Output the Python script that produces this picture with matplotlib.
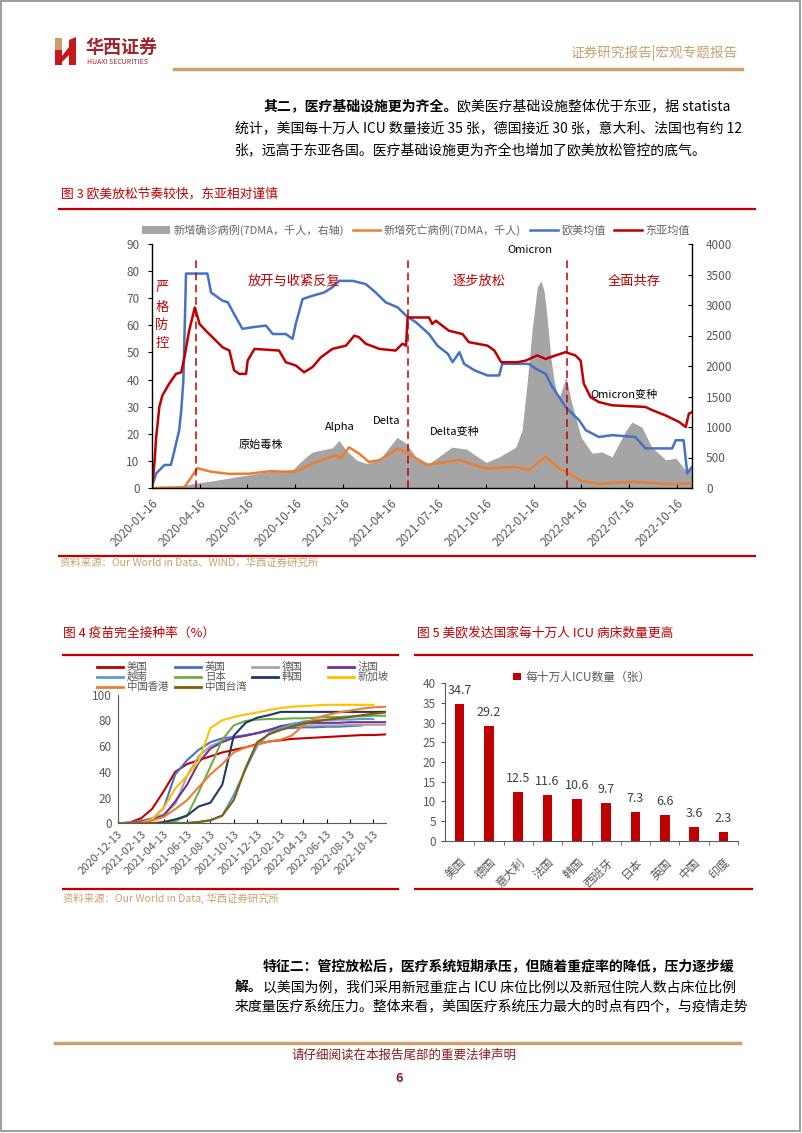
import numpy as np
import pandas as pd
import matplotlib
matplotlib.use('Agg')
import matplotlib.pyplot as plt
from matplotlib.patches import Rectangle, Polygon

plt.rcParams['font.family'] = ['Noto Sans CJK SC', 'DejaVu Sans']
plt.rcParams['axes.unicode_minus'] = False

RED = '#C00000'
GOLD = '#C8A16E'
TXT = '#404040'

# ---------------- 图3 数据 ----------------
case_dates = ['2020-01-16', '2020-03-01', '2020-03-08', '2020-04-10', '2020-05-20', '2020-07-01',
              '2020-08-20', '2020-10-12', '2020-10-24', '2020-11-06', '2020-11-18', '2020-12-05',
              '2020-12-26', '2021-01-08', '2021-01-21', '2021-02-10', '2021-03-01', '2021-03-26',
              '2021-04-14', '2021-04-29', '2021-05-16', '2021-06-04', '2021-06-29', '2021-08-12',
              '2021-09-08', '2021-10-16', '2021-11-10', '2021-12-12', '2021-12-24', '2022-01-03',
              '2022-01-12', '2022-01-22', '2022-01-29', '2022-02-04', '2022-02-09', '2022-02-17',
              '2022-02-23', '2022-03-04', '2022-03-18', '2022-03-29', '2022-04-16', '2022-05-07',
              '2022-05-26', '2022-06-14', '2022-07-11', '2022-07-22', '2022-08-10', '2022-08-29',
              '2022-09-25', '2022-10-14', '2022-11-02', '2022-11-14']
case_vals = [0, 5, 30, 80, 130, 190, 260, 305, 410, 510, 590, 620,
             660, 780, 620, 460, 400, 460,
             670, 830, 730, 510, 400, 670,
             640, 420, 510, 670, 950, 1760,
             2580, 3290, 3400, 3230, 2860, 2140,
             1760, 1450, 1820, 1390, 830, 570,
             590, 510, 950, 1080, 1000, 670,
             460, 490, 290, 350]

death_dates = ['2020-01-16', '2020-03-18', '2020-04-12', '2020-05-08', '2020-06-12', '2020-07-20',
               '2020-08-29', '2020-10-12', '2020-10-24', '2020-11-18', '2020-12-14', '2021-01-02',
               '2021-01-11', '2021-01-27', '2021-02-15', '2021-03-06', '2021-03-26', '2021-04-20',
               '2021-04-30', '2021-05-16', '2021-06-10', '2021-06-23', '2021-07-18', '2021-08-26',
               '2021-10-16', '2021-12-12', '2022-01-06', '2022-02-07', '2022-03-05', '2022-03-24',
               '2022-04-15', '2022-05-20', '2022-07-23', '2022-09-25', '2022-11-14']
death_vals = [0, 0.3, 7.3, 6.0, 5.2, 5.3,
              6.2, 5.9, 6.6, 9.1, 10.9, 12.1,
              11.0, 15.0, 12.7, 9.6, 10.3, 13.3,
              14.6, 13.0, 10.3, 8.5, 9.2, 10.3,
              7.2, 7.8, 6.6, 11.5, 7.2, 5.4,
              2.7, 1.5, 2.3, 1.5, 1.7]

eu_dates = ['2020-01-16', '2020-01-24', '2020-02-09', '2020-02-21', '2020-02-25', '2020-03-08',
            '2020-03-12', '2020-03-16', '2020-03-20', '2020-03-21', '2020-05-01', '2020-05-08',
            '2020-05-30', '2020-06-09', '2020-06-21', '2020-07-07', '2020-07-26', '2020-08-21',
            '2020-09-03', '2020-09-28', '2020-10-11', '2020-10-17', '2020-10-30', '2020-11-18',
            '2020-12-10', '2020-12-26', '2021-01-08', '2021-02-03', '2021-02-28', '2021-03-19',
            '2021-04-07', '2021-04-30', '2021-05-16', '2021-06-04', '2021-06-29', '2021-07-15',
            '2021-08-04', '2021-08-13', '2021-08-26', '2021-09-04', '2021-09-24', '2021-10-19',
            '2021-11-10', '2021-11-16', '2022-01-06', '2022-01-19', '2022-02-07', '2022-02-20',
            '2022-03-05', '2022-03-17', '2022-03-30', '2022-04-12', '2022-04-25', '2022-05-20',
            '2022-06-14', '2022-07-29', '2022-08-17', '2022-10-07', '2022-10-14', '2022-10-29',
            '2022-11-05', '2022-11-14']
eu_vals = [0.5, 5.4, 8.5, 8.5, 11.5, 21.3,
           28.7, 39.7, 70.3, 79.1, 79.1, 72.1,
           69.1, 68.5, 64.2, 58.7, 59.3, 59.9,
           56.8, 56.8, 55.0, 60.5, 69.7, 70.9,
           72.1, 74.0, 76.4, 76.4, 75.2, 72.1,
           68.5, 66.6, 63.6, 61.1, 56.8, 52.5,
           49.5, 46.4, 50.1, 45.8, 43.4, 41.5,
           41.5, 45.8, 45.8, 44.0, 42.1, 37.2,
           33.5, 29.9, 27.4, 25.0, 21.3, 18.8,
           19.5, 18.8, 14.6, 14.6, 17.6, 17.6,
           5.4, 7.8]

ea_dates = ['2020-01-16', '2020-01-21', '2020-01-24', '2020-01-30', '2020-02-05', '2020-02-18',
            '2020-03-02', '2020-03-12', '2020-03-18', '2020-03-27', '2020-04-07', '2020-04-16',
            '2020-04-28', '2020-05-17', '2020-05-30', '2020-06-12', '2020-06-21', '2020-07-01',
            '2020-07-14', '2020-07-17', '2020-07-30', '2020-09-15', '2020-09-28', '2020-10-17',
            '2020-11-02', '2020-11-18', '2020-12-04', '2020-12-26', '2021-01-21', '2021-02-06',
            '2021-02-15', '2021-02-28', '2021-03-26', '2021-04-26', '2021-05-09', '2021-05-16',
            '2021-05-19', '2021-06-29', '2021-07-05', '2021-07-12', '2021-08-06', '2021-09-01',
            '2021-09-13', '2021-10-19', '2021-11-01', '2021-11-14', '2021-12-15', '2021-12-31',
            '2022-01-22', '2022-02-07', '2022-02-26', '2022-03-17', '2022-04-05', '2022-04-15',
            '2022-04-21', '2022-05-04', '2022-05-20', '2022-06-14', '2022-08-17', '2022-08-30',
            '2022-09-24', '2022-10-20', '2022-11-02', '2022-11-08', '2022-11-14']
ea_vals = [0, 10, 18.8, 29.9, 34.2, 38.5,
           42.1, 42.7, 48.2, 58.0, 66.6, 60.5,
           58.0, 54.4, 51.9, 50.7, 43.4, 42.1,
           42.1, 47.0, 51.3, 50.7, 46.4, 45.2,
           42.7, 44.6, 48.2, 51.3, 52.5, 56.2,
           55.6, 53.2, 51.3, 50.7, 53.2, 52.5,
           62.9, 62.9, 60.5, 61.7, 58.0, 56.8,
           53.8, 52.5, 50.7, 46.4, 46.4, 47.0,
           48.9, 47.6, 48.9, 50.1, 48.9, 47.0,
           38.5, 33.5, 31.7, 30.5, 29.9, 28.7,
           26.8, 24.4, 22.5, 27.4, 28.0]

stage_dates = ['2020-04-10', '2021-05-20', '2022-03-20']
ticks3 = ['2020-01-16', '2020-04-16', '2020-07-16', '2020-10-16', '2021-01-16', '2021-04-16',
          '2021-07-16', '2021-10-16', '2022-01-16', '2022-04-16', '2022-07-16', '2022-10-16']

# ---------------- 图4 数据 ----------------
vac_months = ['2020-12', '2021-01', '2021-02', '2021-03', '2021-04', '2021-05', '2021-06', '2021-07',
              '2021-08', '2021-09', '2021-10', '2021-11', '2021-12', '2022-01', '2022-02', '2022-03',
              '2022-04', '2022-05', '2022-06', '2022-07', '2022-08', '2022-09', '2022-10', '2022-11']
nan = np.nan
us = [0, 0.5, 4, 11, 25, 40, 46, 49, 52, 55, 57, 59, 61.5, 63.5, 64.5, 65.5, 66, 66.5, 67, 67.5, 68, 68.5, 68.5, 69]
uk = [0, 0.5, 1, 3, 12, 38, 49, 57, 63, 66, 67, 68.5, 70, 72, 73.5, 74, 74.5, 74.5, 75, 75, 75.5, 76, nan, nan]
de = [0, 0.5, 2, 4, 7, 15, 37, 52, 60, 64, 66.5, 68, 70, 72.5, 74.5, 75.5, 76, 76, 76, 76, 76.5, 76.5, 76.5, 76.5]
fr = [0, 0.3, 1.5, 3, 6, 17, 30, 47, 58, 63, 66.5, 68, 70, 72.5, 75.5, 77, 78, 78, 78, 78, 78.5, 78.5, 78.5, 78.5]
vn = [nan, nan, nan, 0, 0, 0.2, 0.5, 1, 2, 6, 22, 42, 60, 70, 74, 77, 79, 80, 80, 80.5, 80.5, 81, 81, nan]
jp = [0, 0, 0, 0, 0.3, 1.5, 6, 24, 44, 65, 76, 79.5, 80.5, 81, 81, 81.5, 81.5, 82, 82.5, 82.5, 83, 83, 83.5, 83.5]
kr = [0, 0, 0, 0, 1, 3, 6, 13, 16, 30, 68, 78, 82, 84, 86.5, 86.5, 86.5, 86.5, 86.5, 86.5, 86.5, 86.5, 86.5, 86.5]
sg = [0, 0, 0.5, 3, 12, 27, 37, 48, 74, 80, 82.5, 84.5, 86, 88, 89.5, 90.5, 91, 91.5, 92, 92, 92, 92, 92, nan]
hk = [0, 0, 0, 2, 5, 11, 18, 28, 38, 46, 55, 59, 61, 63.5, 65, 68, 76, 81.5, 84, 86, 87.5, 89, 90, 90.5]
tw = [0, 0, 0, 0, 0, 0, 0, 1, 2.5, 6, 18, 43, 63, 69, 72.5, 75, 77.5, 79, 80.5, 81.5, 82.5, 84, 85, 86]
vac_names = ['美国', '英国', '德国', '法国', '越南', '日本', '韩国', '新加坡', '中国香港', '中国台湾']
vac_colors = ['#C00000', '#4472C4', '#A5A5A5', '#7030A0', '#5B9BD5', '#70AD47', '#203864', '#FFC000',
              '#ED7D31', '#806000']
ticks4 = ['2020-12-13', '2021-02-13', '2021-04-13', '2021-06-13', '2021-08-13', '2021-10-13',
          '2021-12-13', '2022-02-13', '2022-04-13', '2022-06-13', '2022-08-13', '2022-10-13']

# ---------------- 图5 数据 ----------------
icu_countries = ['美国', '德国', '意大利', '法国', '韩国', '西班牙', '日本', '英国', '中国', '印度']
icu_beds = [34.7, 29.2, 12.5, 11.6, 10.6, 9.7, 7.3, 6.6, 3.6, 2.3]


fig = plt.figure(figsize=(8.02, 11.33), dpi=100)
bg = fig.add_axes([0, 0, 1, 1])
bg.set_xlim(0, 802)
bg.set_ylim(1133, 0)
bg.axis('off')


def put_line(x, y, parts, size=10):
    t = bg.text(x, y, parts[0][0], fontsize=size, fontweight=parts[0][1], va='bottom')
    for txt, w in parts[1:]:
        t = bg.annotate(txt, xy=(1, 0), xycoords=t, fontsize=size, fontweight=w, va='bottom', ha='left')
    return t


# page frame + header
bg.add_patch(Rectangle((1, 1), 799, 1130, fill=False, ec='#8c8c8c', lw=1.2))
bg.add_patch(Rectangle((55, 38), 7, 12, color='#C9A063', lw=0))
bg.add_patch(Rectangle((55, 50), 7, 15, color='#C8161D', lw=0))
bg.add_patch(Polygon([(62, 56), (69, 47), (69, 40), (76, 37), (76, 65), (69, 65), (69, 55), (62, 62)],
                     color='#C8161D', lw=0))
bg.text(86, 47, '华西证券', fontsize=13, fontweight='bold', color='#A3232A', va='center')
bg.text(87, 62, 'HUAXI SECURITIES', fontsize=5, color='#A3232A', va='center')
bg.text(737, 53, '证券研究报告|宏观专题报告', ha='right', va='center', fontsize=9.8, color=GOLD)
bg.plot([174, 742], [69, 69], color=GOLD, lw=2.5)

put_line(263, 113, [('其二，医疗基础设施更为齐全。', 'bold'), ('欧美医疗基础设施整体优于东亚，据 statista', 'normal')])
put_line(235, 135, [('统计，美国每十万人 ICU 数量接近 35 张，德国接近 30 张，意大利、法国也有约 12', 'normal')])
put_line(235, 157, [('张，远高于东亚各国。医疗基础设施更为齐全也增加了欧美放松管控的底气。', 'normal')])

# ---------------- 图3 ----------------
bg.text(61, 194, '图 3 欧美放松节奏较快，东亚相对谨慎', color=RED, fontsize=9.2, va='center')
bg.plot([59, 755], [209, 209], color=RED, lw=1.6)

ax1 = fig.add_axes([152 / 802, 1 - 488 / 1133, 540 / 802, 244 / 1133])
ax1r = ax1.twinx()
ax1.set_zorder(ax1r.get_zorder() + 1)
ax1.patch.set_visible(False)

h_case = ax1r.fill_between(pd.to_datetime(case_dates), case_vals, color='#A5A5A5', lw=0)
h_death, = ax1.plot(pd.to_datetime(death_dates), death_vals, color='#ED7D31', lw=1.8)
h_eu, = ax1.plot(pd.to_datetime(eu_dates), eu_vals, color='#4472C4', lw=1.8)
h_ea, = ax1.plot(pd.to_datetime(ea_dates), ea_vals, color=RED, lw=1.8)
ax1.vlines(pd.to_datetime(stage_dates), 0, 85.5, colors=RED, linestyles=(0, (5, 3)), lw=1.1)

ax1.set_xlim(pd.Timestamp('2020-01-16'), pd.Timestamp('2022-11-14'))
ax1.set_ylim(0, 90)
ax1r.set_ylim(0, 4000)
ax1.set_yticks(range(0, 91, 10))
ax1r.set_yticks(range(0, 4001, 500))
ax1.set_xticks(pd.to_datetime(ticks3))
ax1.set_xticklabels(ticks3, rotation=45, ha='right', va='top', rotation_mode='anchor')
for a in (ax1, ax1r):
    a.spines['top'].set_visible(False)
    for s in a.spines.values():
        s.set_linewidth(1.0)
ax1.spines['right'].set_visible(False)
ax1r.spines['left'].set_visible(False)
ax1r.spines['bottom'].set_visible(False)
ax1.tick_params(axis='y', labelsize=8.5, labelcolor='#595959', length=3, pad=6)
ax1.tick_params(axis='x', labelsize=8.5, labelcolor='#595959', length=3, direction='in', pad=6)
ax1r.tick_params(axis='y', labelsize=8.5, labelcolor='#595959', length=3, direction='in', pad=10)

fig.legend([h_case, h_death, h_eu, h_ea],
           ['新增确诊病例(7DMA，千人，右轴)', '新增死亡病例(7DMA，千人)', '欧美均值', '东亚均值'],
           loc='center', bbox_to_anchor=(416 / 802, 1 - 230 / 1133), ncol=4, frameon=False,
           fontsize=8, handlelength=2.5, columnspacing=0.8, handletextpad=0.3, labelcolor='#666666')

ann_red = [('2020-10-14', 76.4, '放开与收紧反复'), ('2021-10-03', 76.4, '逐步放松'), ('2022-07-26', 76.4, '全面共存')]
for d, v, s in ann_red:
    ax1.text(pd.Timestamp(d), v, s, color=RED, fontsize=9.5, ha='center', va='center')
for ch, v in zip('严格防控', [73.8, 66.5, 59.9, 53.3]):
    ax1.text(pd.Timestamp('2020-02-04'), v, ch, color=RED, fontsize=9.5, ha='center', va='center')
ann_black = [('2022-01-08', 87.8, 'Omicron'), ('2020-08-12', 15.8, '原始毒株'), ('2021-01-10', 22.4, 'Alpha'),
             ('2021-04-08', 24.6, 'Delta'), ('2021-08-18', 20.6, 'Delta变种'), ('2022-07-07', 34.2, 'Omicron变种')]
for d, v, s in ann_black:
    ax1.text(pd.Timestamp(d), v, s, color='black', fontsize=8, ha='center', va='center')

bg.plot([59, 755], [556, 556], color=RED, lw=1.6)
bg.text(60, 563, '资料来源：Our World in Data、WIND，华西证券研究所', fontsize=7.5, color=GOLD, va='center')

# ---------------- 图4 ----------------
bg.text(63, 633, '图 4 疫苗完全接种率（%）', color=RED, fontsize=9.2, va='center')
bg.plot([63, 398], [655, 655], color=RED, lw=1.6)
ax4 = fig.add_axes([117.5 / 802, 1 - 823.3 / 1133, 268.5 / 802, 128.8 / 1133])
vac_x = pd.to_datetime([m + '-13' for m in vac_months])
for series, name, col in zip([us, uk, de, fr, vn, jp, kr, sg, hk, tw], vac_names, vac_colors):
    ax4.plot(vac_x, series, color=col, lw=1.5)
ax4.set_xlim(pd.Timestamp('2020-12-13'), pd.Timestamp('2022-11-15'))
ax4.set_ylim(0, 100)
ax4.set_yticks(range(0, 101, 20))
ax4.set_xticks(pd.to_datetime(ticks4))
ax4.set_xticklabels(ticks4, rotation=45, ha='right', va='top', rotation_mode='anchor')
ax4.spines['top'].set_visible(False)
ax4.spines['right'].set_visible(False)
for s in ('left', 'bottom'):
    ax4.spines[s].set_color('#595959')
ax4.tick_params(axis='y', labelsize=8.5, labelcolor='#595959', length=0, pad=4)
ax4.tick_params(axis='x', labelsize=8, labelcolor='#595959', length=3, direction='in', pad=4)

col_x = [97, 175, 252, 328]
row_y = [667, 677, 687]
for i, (name, col) in enumerate(zip(vac_names, vac_colors)):
    x0, y0 = col_x[i % 4], row_y[i // 4]
    bg.plot([x0, x0 + 26], [y0, y0], color=col, lw=2)
    bg.text(x0 + 30, y0, name, fontsize=7.5, color='#595959', va='center')

bg.plot([63, 398], [889, 889], color=RED, lw=1.6)
bg.text(63, 898, '资料来源：Our World in Data, 华西证券研究所', fontsize=7.5, color=GOLD, va='center')

# ---------------- 图5 ----------------
bg.text(417, 633, '图 5 美欧发达国家每十万人 ICU 病床数量更高', color=RED, fontsize=9.2, va='center')
bg.plot([415, 752], [655, 655], color=RED, lw=1.6)
ax5 = fig.add_axes([445 / 802, 1 - 840.7 / 1133, 293 / 802, 157.4 / 1133])
bars = ax5.bar(range(len(icu_beds)), icu_beds, width=0.33, color=RED, label='每十万人ICU数量（张）')
ax5.bar_label(bars, labels=[f'{v}' for v in icu_beds], padding=5, fontsize=9, color='#404040')
ax5.set_xlim(-0.5, len(icu_beds) - 0.5)
ax5.set_ylim(0, 40)
ax5.set_yticks(range(0, 41, 5))
ax5.set_xticks(range(len(icu_countries)))
ax5.set_xticklabels(icu_countries, rotation=45, ha='right', va='top', rotation_mode='anchor')
ax5.set_xticks(np.arange(0.5, len(icu_countries), 1), minor=True)
ax5.spines['top'].set_visible(False)
ax5.spines['right'].set_visible(False)
for s in ('left', 'bottom'):
    ax5.spines[s].set_color('#595959')
ax5.tick_params(axis='x', which='major', length=0, labelsize=8.5, labelcolor='#595959', pad=11)
ax5.tick_params(axis='x', which='minor', length=3, color='#595959')
ax5.tick_params(axis='y', labelsize=8.5, labelcolor='#595959', length=3, color='#595959')
fig.legend(handles=[bars], labels=['每十万人ICU数量（张）'], loc='center',
           bbox_to_anchor=(582 / 802, 1 - 677 / 1133), frameon=False, fontsize=8.5,
           handlelength=0.6, handleheight=0.6, handletextpad=0.4, labelcolor='#595959')
bg.plot([415, 752], [889, 889], color=RED, lw=1.6)

# ---------------- 正文 + 页脚 ----------------
put_line(263, 973, [('特征二：管控放松后，医疗系统短期承压，但随着重症率的降低，压力逐步缓', 'bold')])
put_line(235, 994, [('解。', 'bold'), ('以美国为例，我们采用新冠重症占 ICU 床位比例以及新冠住院人数占床位比例', 'normal')])
put_line(235, 1013, [('来度量医疗系统压力。整体来看，美国医疗系统压力最大的时点有四个，与疫情走势', 'normal')])

bg.plot([55, 740], [1043, 1043], color=GOLD, lw=2.5)
bg.text(404, 1055, '请仔细阅读在本报告尾部的重要法律声明', ha='center', va='center', fontsize=9, color='#8B1A1A')
bg.text(399, 1079, '6', ha='center', va='center', fontsize=9, fontweight='bold', color='#8B1A1A')

fig.savefig('out.png', dpi=100)
